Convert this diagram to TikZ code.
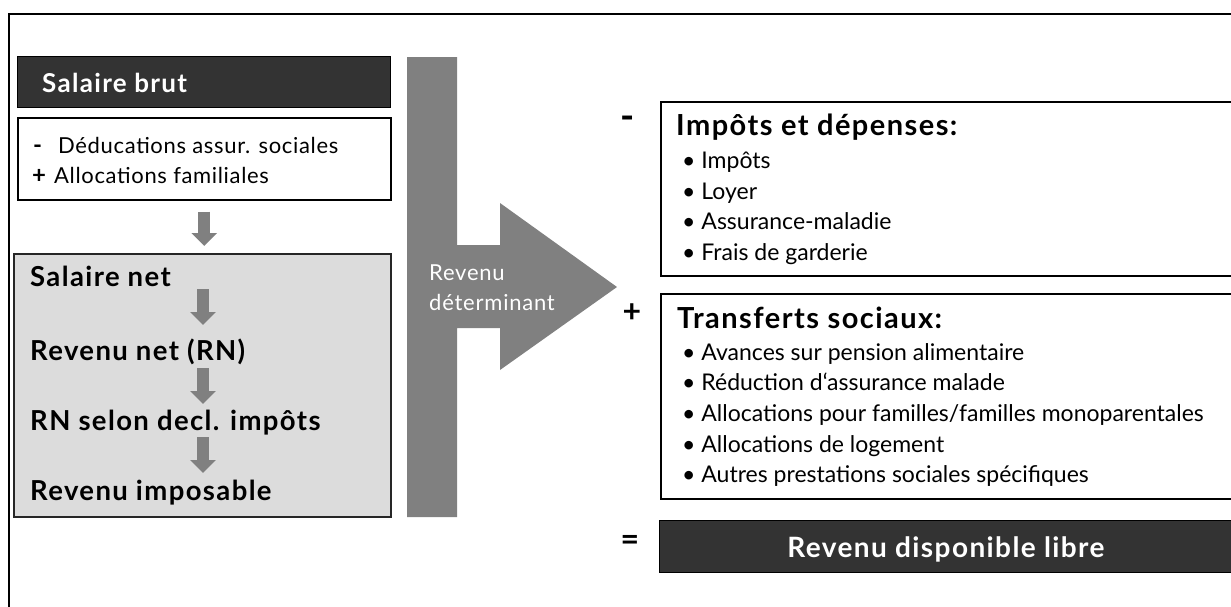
\documentclass[tikz,border=0pt]{standalone}
\usepackage{fontspec}
\setmainfont{Lato}
\usetikzlibrary{arrows.meta,calc}
\definecolor{darkbox}{HTML}{333333}
\definecolor{midgray}{HTML}{808080}
\definecolor{lightbox}{HTML}{DCDCDC}
\tikzset{
  frame/.style={line width=2pt},
  whitebox/.style={draw=black, fill=white, line width=1.5pt, inner sep=0pt, anchor=north west},
  darkrect/.style={draw=black, fill=darkbox, line width=1.2pt, inner sep=0pt, anchor=north west},
  greybox/.style={draw=black!85, fill=lightbox, line width=1.5pt, inner sep=0pt, anchor=north west},
  txt/.style={anchor=base west, inner sep=0pt},
  btitle/.style={txt, font=\fontsize{29}{33}\selectfont\bfseries\addfontfeature{LetterSpace=5}},
  ntext/.style={txt, font=\fontsize{22}{26}\selectfont\addfontfeature{LetterSpace=3}},
  htext/.style={txt, font=\fontsize{27.5}{32}\selectfont\bfseries\addfontfeature{LetterSpace=5}},
  itemtext/.style={txt, font=\fontsize{23}{27}\selectfont},
  opsign/.style={txt, font=\fontsize{24}{28}\selectfont\bfseries},
  sign/.style={anchor=center, inner sep=0pt, font=\fontsize{32}{36}\selectfont\bfseries},
  grayarrow/.style={draw=midgray, line width=12pt, -{Triangle[length=13pt,width=25pt]}},
}
\begin{document}
\begin{tikzpicture}[x=1pt,y=-1pt]
\useasboundingbox (0,0) rectangle (1231,606);
\clip (0,0) rectangle (1231,606);
% outer frame
\draw[frame] (9,700) -- (9,14) -- (1300,14);

% left column
\node[darkrect, minimum width=373pt, minimum height=51pt] (brut) at (17,56) {};
\node[txt, font=\fontsize{26}{30}\selectfont\bfseries\addfontfeature{LetterSpace=5}, text=white] (brutT) at (42,92) {Salaire brut};

\node[whitebox, minimum width=373pt, minimum height=82pt] (ded) at (17,117) {};
\node[opsign] (dedM) at (33,153) {-};
\node[ntext] (dedA) at (58,153) {Déducations assur. sociales};
\node[opsign] (dedP) at (32,183) {+};
\node[ntext] (dedB) at (54,183) {Allocations familiales};

\node[greybox, minimum width=377pt, minimum height=263pt] (net) at (13,253) {};
\node[htext] (sn) at (30,286) {Salaire net};
\node[htext] (rn) at (30,360) {Revenu net (RN)};
\node[htext] (rd) at (30,430) {RN selon decl. impôts};
\node[htext] (ri) at (30,500) {Revenu imposable};

\draw[grayarrow, shorten <=11pt, shorten >=7pt] (ded.south) -- (ded.south |- net.north);
\coordinate (a1s) at (203,289); \coordinate (a1e) at (203,325);
\coordinate (a2s) at (203,368); \coordinate (a2e) at (203,404);
\coordinate (a3s) at (203,437); \coordinate (a3e) at (203,473);
\draw[grayarrow] (a1s) -- (a1e);
\draw[grayarrow] (a2s) -- (a2e);
\draw[grayarrow] (a3s) -- (a3e);

% big arrow
\fill[midgray] (407,57) -- (457,57) -- (457,245) -- (500,245) -- (500,203) -- (617,287)
  -- (500,370) -- (500,328) -- (457,328) -- (457,517) -- (407,517) -- cycle;
\node[txt, font=\fontsize{22}{26}\selectfont\addfontfeature{LetterSpace=3.5}, text=white] (rv1) at (429,280) {Revenu};
\node[txt, font=\fontsize{22}{26}\selectfont\addfontfeature{LetterSpace=3.5}, text=white] (rv2) at (429,310) {déterminant};

% right column
\node[sign, font=\fontsize{38}{40}\selectfont\bfseries] (minus) at (628,123) {-};
\node[sign] (plus) at (632,313) {+};
\node[sign] (equal) at (630,543) {=};

\node[whitebox, minimum width=600pt, minimum height=174pt] (dep) at (660,101) {};
\node[btitle] (depT) at (676,135) {Impôts et dépenses:};
\node[itemtext] (dep1) at (682,168) {• Impôts};
\node[itemtext] (dep2) at (682,199) {• Loyer};
\node[itemtext] (dep3) at (682,229) {• Assurance-maladie};
\node[itemtext] (dep4) at (682,260) {• Frais de garderie};

\node[whitebox, minimum width=600pt, minimum height=205pt] (tr) at (660,293) {};
\node[btitle] (trT) at (677,328) {Transferts sociaux:};
\node[itemtext] (tr1) at (682,360) {• Avances sur pension alimentaire};
\node[itemtext] (tr2) at (682,390) {• Réduction d‘assurance malade};
\node[itemtext] (tr3) at (682,421) {• Allocations pour familles/familles monoparentales};
\node[itemtext] (tr4) at (682,452) {• Allocations de logement};
\node[itemtext] (tr5) at (682,482) {• Autres prestations sociales spécifiques};

\node[darkrect, minimum width=600pt, minimum height=52pt] (rdl) at (659,520) {};
\node[anchor=base, inner sep=0pt, font=\fontsize{28}{32}\selectfont\bfseries\addfontfeature{LetterSpace=5}, text=white] (rdlT) at (946,557) {Revenu disponible libre};
\end{tikzpicture}
\end{document}
